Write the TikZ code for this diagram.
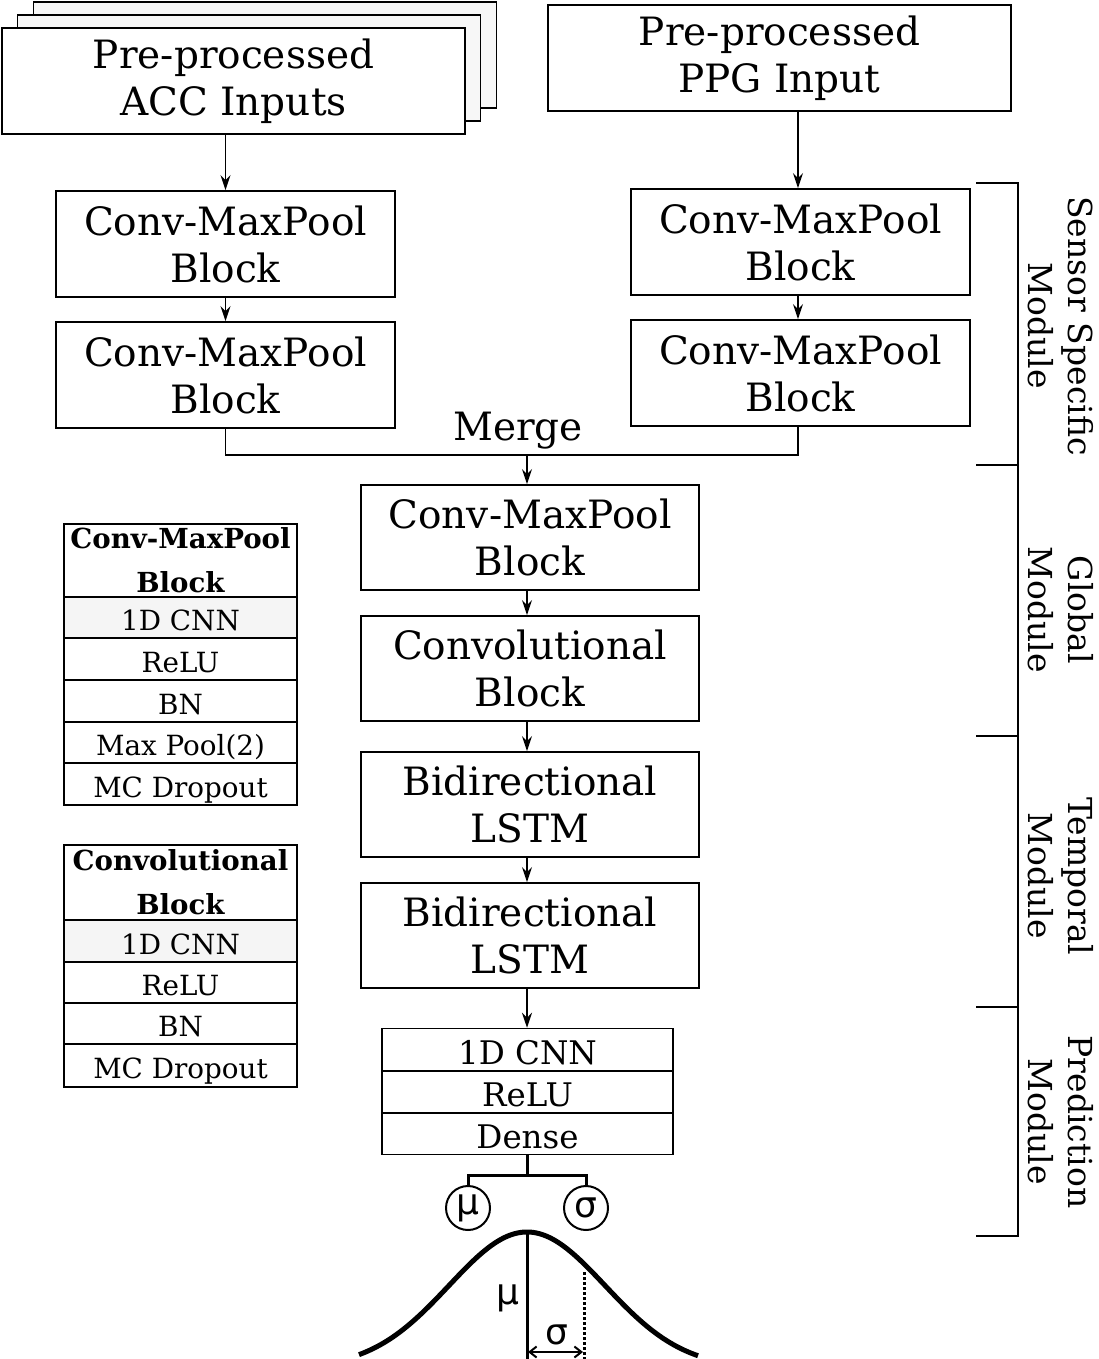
\documentclass[tikz,border=0pt]{standalone}
\usepackage{fontspec}
\setmainfont{DejaVu Serif}
\newfontfamily\grk{DejaVu Sans}
\usetikzlibrary{arrows.meta}
\begin{document}
\begin{tikzpicture}[x=1pt,y=-1pt,
  box/.style={draw, line width=1.8pt, inner sep=0pt, align=center, font=\fontsize{39}{47}\selectfont},
  cell/.style={draw, line width=1.5pt, inner sep=0pt, minimum width=233pt, text height=26pt, text depth=0pt, font=\fontsize{27.8}{32}\selectfont},
  hcell/.style={draw, line width=1.5pt, inner sep=0pt, minimum width=233pt, align=center, font=\fontsize{27.6}{44}\selectfont\bfseries},
  pcell/.style={draw, line width=1.5pt, inner sep=0pt, minimum width=291pt, minimum height=42pt, text height=29pt, text depth=0pt, font=\fontsize{32.5}{36}\selectfont},
  arr/.style={line width=1.5pt, -{Stealth[length=15pt,width=10pt,inset=5pt]}},
  lnk/.style={line width=1.5pt},
  brk/.style={line width=2pt},
  thk/.style={line width=3pt},
  gcirc/.style={circle, draw, line width=2pt, minimum size=44pt, inner sep=0pt, font=\grk\fontsize{36}{36}\selectfont},
  modlbl/.style={rotate=-90, align=center, inner sep=0pt, font=\fontsize{33}{40}\selectfont}
]
\useasboundingbox (0,0) rectangle (1098,1359);

% stacked ACC inputs
\node[box, fill=gray!6, minimum width=463pt, minimum height=106pt] (accb) at (265,55) {};
\node[box, fill=gray!6, minimum width=463pt, minimum height=106pt] (accm) at (249,68) {};
\node[box, fill=white, minimum width=463pt, minimum height=106pt] (acc) at (233.5,81) {Pre-processed\\ACC Inputs};
\node[box, minimum width=463pt, minimum height=106pt] (ppg) at (779.5,58) {Pre-processed\\PPG Input};

% sensor specific blocks
\node[box, minimum width=339pt, minimum height=106pt] (lc1) at (225.5,244) {Conv-MaxPool\\Block};
\node[box, minimum width=339pt, minimum height=106pt] (lc2) at (225.5,375) {Conv-MaxPool\\Block};
\node[box, minimum width=339pt, minimum height=106pt] (rc1) at (800.5,242) {Conv-MaxPool\\Block};
\node[box, minimum width=339pt, minimum height=106pt] (rc2) at (800.5,373) {Conv-MaxPool\\Block};

% central column
\node[box, minimum width=338pt, minimum height=105pt] (g1) at (530,537.5) {Conv-MaxPool\\Block};
\node[box, minimum width=338pt, minimum height=105pt] (g2) at (530,668.5) {Convolutional\\Block};
\node[box, minimum width=338pt, minimum height=105pt] (t1) at (530,804.5) {Bidirectional\\LSTM};
\node[box, minimum width=338pt, minimum height=105pt] (t2) at (530,935.5) {Bidirectional\\LSTM};

% prediction stack
\node[pcell] (p1) at (527.5,1049.5) {1D CNN};
\node[pcell] (p2) at (527.5,1092) {ReLU};
\node[pcell] (p3) at (527.5,1133.5) {Dense};

% arrows
\draw[arr] (acc.south -| lc1.north) -- (lc1.north);
\draw[arr] (lc1.south) -- (lc2.north);
\draw[arr] (ppg.south -| 798,0) -- (798,0 |- rc1.north);
\draw[arr] (798,0 |- rc1.south) -- (798,0 |- rc2.north);
\coordinate (mg) at (527,455);
\draw[lnk] (lc2.south) |- (mg) -| (798,0 |- rc2.south);
\node[anchor=base, inner sep=0pt, font=\fontsize{39}{47}\selectfont] (mergelbl) at (518,440) {Merge};
\draw[arr] (mg) -- (mg |- g1.north);
\draw[arr] (g1.south -| mg) -- (g2.north -| mg);
\draw[arr] (g2.south -| mg) -- (t1.north -| mg);
\draw[arr] (t1.south -| mg) -- (t2.north -| mg);
\draw[arr] (t2.south -| mg) -- (p1.north -| mg);

% outputs
\node[gcirc] (mu) at (468,1208) {μ};
\node[gcirc] (sg) at (586,1208) {σ};
\coordinate (sp) at (527,1175);
\draw[thk] (p3.south -| sp) -- (sp);
\draw[thk] (mu.north) |- (sp) -| (sg.north);

% gaussian
\draw[line width=5pt] plot[domain=-168:171, samples=150] ({527+\x},{1368-136*exp(-0.5*(\x/78)*(\x/78))});
\coordinate (pk) at (527,1232);
\coordinate (pb) at (527,1362);
\draw[thk] (pk) -- (pb);
\coordinate (sd1) at (584,1272);
\coordinate (sd2) at (584,1359);
\draw[line width=3pt, dotted] (sd1) -- (sd2);
\coordinate (da) at (528,1352);
\coordinate (db) at (583,1352);
\draw[line width=2pt, {Straight Barb[length=7pt,width=11pt]}-{Straight Barb[length=7pt,width=11pt]}] (da) -- (db);
\node[inner sep=0pt, font=\grk\fontsize{36}{36}\selectfont] (mulbl) at (508,1298) {μ};
\node[inner sep=0pt, font=\grk\fontsize{36}{36}\selectfont] (sglbl) at (557,1335) {σ};

% legend table 1
\node[hcell, minimum height=73pt] (a0) at (180.5,560.5) {Conv-MaxPool\\Block};
\node[cell, minimum height=41pt, fill=gray!8] (a1) at (180.5,617.5) {1D CNN};
\node[cell, minimum height=42pt] (a2) at (180.5,659) {ReLU};
\node[cell, minimum height=42pt] (a3) at (180.5,701) {BN};
\node[cell, minimum height=41pt] (a4) at (180.5,742.5) {Max Pool(2)};
\node[cell, minimum height=42pt] (a5) at (180.5,784) {MC Dropout};

% legend table 2
\node[hcell, minimum height=75pt] (b0) at (180.5,882.5) {Convolutional\\Block};
\node[cell, minimum height=42pt, fill=gray!8] (b1) at (180.5,941) {1D CNN};
\node[cell, minimum height=41pt] (b2) at (180.5,982.5) {ReLU};
\node[cell, minimum height=41pt] (b3) at (180.5,1023.5) {BN};
\node[cell, minimum height=43pt] (b4) at (180.5,1065.5) {MC Dropout};

% module brackets
\coordinate (k0) at (976,183);
\coordinate (k1) at (976,465);
\coordinate (k2) at (976,736);
\coordinate (k3) at (976,1007);
\coordinate (k4) at (976,1236);
\draw[brk] (k0) -- ++(42,0) -- (1018,0 |- k4) -- (k4);
\draw[brk] (k1) -- ++(42,0);
\draw[brk] (k2) -- ++(42,0);
\draw[brk] (k3) -- ++(42,0);
\node[modlbl] (m1) at (1061,326) {Sensor Specific\\Module};
\node[modlbl] (m2) at (1061,610) {Global\\Module};
\node[modlbl] (m3) at (1061,876) {Temporal\\Module};
\node[modlbl] (m4) at (1061,1122) {Prediction\\Module};
\end{tikzpicture}
\end{document}
